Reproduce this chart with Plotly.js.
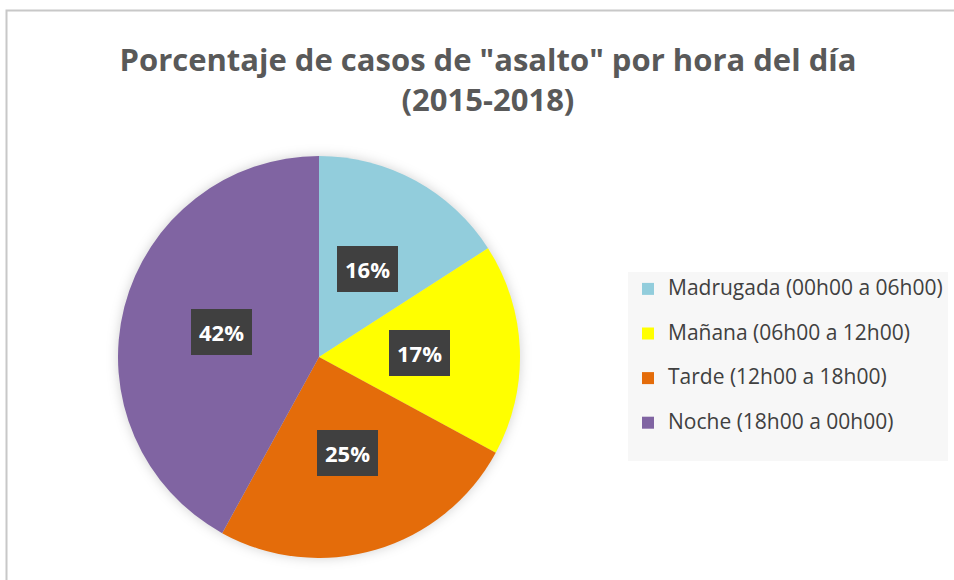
<!DOCTYPE html>
<html>
<head>
<meta charset="utf-8">
<script src="https://cdn.plot.ly/plotly-3.0.1.min.js"></script>
<style>
  html, body { margin: 0; padding: 0; background: #ffffff; }
  #chart { width: 954px; height: 580px; }
  .pielayer { filter: drop-shadow(0px 0px 6px rgba(0,0,0,0.18)); }
</style>
</head>
<body>
<div id="chart"></div>
<script>
// ---- data ----
const categories = [
  "Madrugada (00h00 a 06h00)",
  "Mañana (06h00 a 12h00)",
  "Tarde (12h00 a 18h00)",
  "Noche (18h00 a 00h00)"
];
const values = [15.9, 17.0, 25.1, 42.0];
const colors = ["#92CDDC", "#FFFF00", "#E46C0A", "#8064A2"];
const titleText = 'Porcentaje de casos de "asalto" por hora del día<br>(2015-2018)';

// ---- layout geometry ----
const W = 954, H = 580;
const domX = [118 / W, 520 / W];
const domY = [1 - 558 / H, 1 - 156 / H];

// label positions derived from values (mid-angle of each slice, half radius)
const total = values.reduce((a, b) => a + b, 0);
const cxPx = (domX[0] + domX[1]) / 2 * W;
const cyPx = (1 - (domY[0] + domY[1]) / 2) * H;
const Rpx = Math.min((domX[1] - domX[0]) * W, (domY[1] - domY[0]) * H) / 2;
let cum = 0;
const annotations = values.map((v, i) => {
  const mid = (cum + v / 2) / total * 2 * Math.PI;
  cum += v;
  const r = 0.5 * Rpx;
  const px = cxPx + r * Math.sin(mid);
  const py = cyPx - r * Math.cos(mid);
  return {
    xref: 'paper', yref: 'paper',
    x: px / W, y: 1 - py / H,
    xanchor: 'center', yanchor: 'middle',
    text: '<b>' + Math.round(v / total * 100) + '%</b>',
    showarrow: false,
    font: { family: 'Open Sans, sans-serif', size: 22, color: '#ffffff' },
    bgcolor: '#404040',
    borderpad: 8,
    borderwidth: 0
  };
});

const trace = {
  type: 'pie',
  labels: categories.map(c => '<span style="font-size:21px">' + c + '</span><br>&nbsp;'),
  values: values,
  sort: false,
  direction: 'clockwise',
  rotation: 0,
  marker: { colors: colors, line: { width: 0 } },
  textinfo: 'none',
  hoverinfo: 'label+percent',
  domain: { x: domX, y: domY }
};

const layout = {
  width: W, height: H,
  margin: { l: 0, r: 0, t: 0, b: 0 },
  paper_bgcolor: '#ffffff',
  title: {
    text: '<b>' + titleText + '</b>',
    x: 488 / W, xanchor: 'center',
    y: 1 - 71 / H, yanchor: 'middle',
    font: { family: 'Open Sans, sans-serif', size: 31, color: '#595959' }
  },
  showlegend: true,
  legend: {
    x: 628 / W, xanchor: 'left',
    y: 1 - 272 / H, yanchor: 'top',
    bgcolor: '#F7F7F7',
    valign: 'top',
    font: { family: 'Open Sans, sans-serif', size: 16, color: '#404040' },
    traceorder: 'normal'
  },
  annotations: annotations,
  shapes: [{
    type: 'rect', xref: 'paper', yref: 'paper',
    x0: 6.5 / W, x1: 1.05, y0: -0.05, y1: 1 - 10.5 / H,
    line: { color: '#C8C8C8', width: 2 }
  }]
};

Plotly.newPlot('chart', [trace], layout, { displayModeBar: false, staticPlot: true });
</script>
</body>
</html>
